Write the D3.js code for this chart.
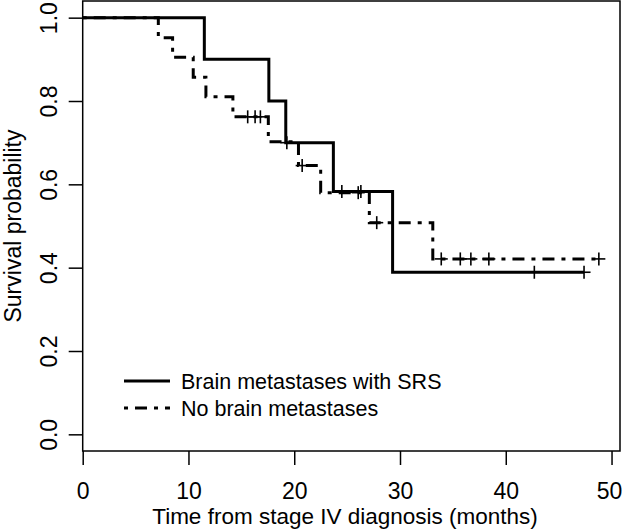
<!DOCTYPE html>
<html><head><meta charset="utf-8">
<script src="https://cdn.jsdelivr.net/npm/d3@7"></script>
<style>body{margin:0;background:#fff}svg{display:block}text{font-family:"Liberation Sans",Arial,sans-serif;fill:#000}</style>
</head><body>
<script>
// ---- data ----
const xTicks = [0, 10, 20, 30, 40, 50];
const yTicks = [0.0, 0.2, 0.4, 0.6, 0.8, 1.0];
const seriesNames = ["Brain metastases with SRS", "No brain metastases"];

// Brain metastases with SRS (solid)
const srsEventTimes = [11.5, 17.6, 19.2, 23.7, 29.3];
const srsSurvival   = [0.900, 0.800, 0.700, 0.583, 0.389];
const srsCensorTimes = [19.3, 24.5, 26.3, 42.7, 47.4];
const srsEndTime = 47.4;

// No brain metastases (dot-dash)
const noEventTimes = [7.15, 8.5, 10.45, 11.65, 14.2, 17.55, 20.4, 22.5, 27.1, 33.1];
const noSurvival   = [0.952, 0.905, 0.857, 0.810, 0.762, 0.702, 0.645, 0.580, 0.508, 0.421];
const noCensorTimes = [15.6, 16.3, 16.8, 20.75, 26.05, 27.8, 33.9, 35.7, 36.7, 38.4, 48.8];
const noEndTime = 48.8;

// ---- layout ----
const W = 623, H = 529;
const box = {left: 82.7, right: 620, top: 1, bottom: 451};
const x = d3.scaleLinear().domain([0, 50.8]).range([box.left, box.right]);
const y = d3.scaleLinear().domain([-0.04, 1.04]).range([box.bottom, box.top]);

const svg = d3.select("body").append("svg").attr("width", W).attr("height", H);

function stepPoints(times, surv, end) {
  const pts = [[0, 1]];
  let s = 1;
  times.forEach((t, i) => { pts.push([t, s]); s = surv[i]; pts.push([t, s]); });
  pts.push([end, s]);
  return pts;
}
function survAt(times, surv, t) {
  const i = d3.bisectRight(times, t);
  return i === 0 ? 1 : surv[i - 1];
}
const line = d3.line().x(d => x(d[0])).y(d => y(d[1]));
const dash = "4,7,12,7";

const curves = [
  {times: srsEventTimes, surv: srsSurvival, cens: srsCensorTimes, end: srsEndTime, dash: null},
  {times: noEventTimes, surv: noSurvival, cens: noCensorTimes, end: noEndTime, dash: dash}
];

curves.forEach(c => {
  svg.append("path").attr("d", line(stepPoints(c.times, c.surv, c.end)))
    .attr("fill", "none").attr("stroke", "#000").attr("stroke-width", 3)
    .attr("stroke-dasharray", c.dash);
  const g = svg.append("g");
  c.cens.forEach(t => {
    const cx = x(t), cy = y(survAt(c.times, c.surv, t));
    g.append("line").attr("x1", cx - 6.5).attr("x2", cx + 6.5).attr("y1", cy).attr("y2", cy)
      .attr("stroke", "#000").attr("stroke-width", 1.6);
    g.append("line").attr("x1", cx).attr("x2", cx).attr("y1", cy - 6.5).attr("y2", cy + 6.5)
      .attr("stroke", "#000").attr("stroke-width", 1.6);
  });
});

// box
svg.append("rect").attr("x", box.left).attr("y", box.top)
  .attr("width", box.right - box.left).attr("height", box.bottom - box.top)
  .attr("fill", "none").attr("stroke", "#000").attr("stroke-width", 1.5);

// x axis
const xAxis = d3.axisBottom(x).tickValues(xTicks).tickSize(14).tickPadding(4).tickFormat(d3.format("d"));
const gx = svg.append("g").attr("transform", `translate(0,${box.bottom})`).call(xAxis);
gx.select(".domain").remove();
gx.selectAll("line").attr("stroke-width", 1.5);
gx.selectAll("text").attr("font-size", 23).attr("font-family", "Liberation Sans, Arial, sans-serif")
  .attr("dy", null).attr("y", 47.5)
  .attr("dx", d => d === 50 ? -2.5 : null);

// y axis
const yAxis = d3.axisLeft(y).tickValues(yTicks).tickSize(14).tickFormat(d3.format(".1f"));
const gy = svg.append("g").attr("transform", `translate(${box.left},0)`).call(yAxis);
gy.select(".domain").remove();
gy.selectAll("line").attr("stroke-width", 1.5);
gy.selectAll("text").attr("font-size", 23).attr("font-family", "Liberation Sans, Arial, sans-serif")
  .attr("x", null).attr("dy", null)
  .attr("text-anchor", "middle")
  .attr("transform", "translate(-26,0) rotate(-90)");

// axis titles
svg.append("text").attr("x", 345).attr("y", 523.5)
  .attr("text-anchor", "middle").attr("font-size", 22.5)
  .text("Time from stage IV diagnosis (months)");
svg.append("text").attr("transform", `translate(21,${(box.top + box.bottom) / 2}) rotate(-90)`)
  .attr("text-anchor", "middle").attr("font-size", 23)
  .text("Survival probability");

// legend
const legY = [381, 408];
seriesNames.forEach((name, i) => {
  svg.append("line").attr("x1", 124).attr("x2", 170).attr("y1", legY[i]).attr("y2", legY[i])
    .attr("stroke", "#000").attr("stroke-width", 3)
    .attr("stroke-dasharray", curves[i].dash);
  svg.append("text").attr("x", 181).attr("y", legY[i] + 8).attr("font-size", 21.5).text(name);
});
</script>
</body></html>
